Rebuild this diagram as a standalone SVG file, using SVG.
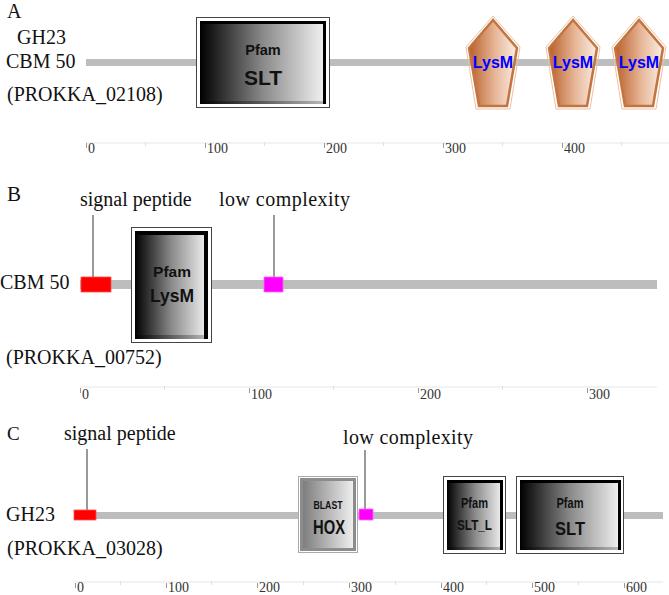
<svg xmlns="http://www.w3.org/2000/svg" width="669" height="595" viewBox="0 0 669 595">
<defs>
<linearGradient id="bw" x1="0" y1="0" x2="1" y2="0">
<stop offset="0" stop-color="#000"/>
<stop offset="0.5" stop-color="#8a8a8a"/>
<stop offset="1" stop-color="#f4f4f4"/>
</linearGradient>
<linearGradient id="bwb" x1="0" y1="0" x2="1" y2="0">
<stop offset="0" stop-color="#000"/>
<stop offset="1" stop-color="#bbb"/>
</linearGradient>
<linearGradient id="gray" x1="0" y1="0" x2="1" y2="0">
<stop offset="0" stop-color="#7a7a7a"/>
<stop offset="1" stop-color="#f2f2f2"/>
</linearGradient>
<linearGradient id="cu" x1="0" y1="0" x2="1" y2="0">
<stop offset="0" stop-color="#b9602b"/>
<stop offset="0.55" stop-color="#e7b798"/>
<stop offset="1" stop-color="#fbeee6"/>
</linearGradient>
<g id="pent">
<polygon points="0,-1 -27,30 -17,92 17,92 27,30" fill="none" stroke="#eec0a2" stroke-width="1"/>
<polygon points="0,3 -24,31 -14,89 14,89 24,31" fill="url(#cu)" stroke="#c4743f" stroke-width="2.5"/>
</g>
</defs>
<style>
.serif{font-family:"Liberation Serif","Times New Roman",serif;fill:#111}
.lbl{font-size:20px}
.ax{font-size:14px;fill:#333}
.sans{font-family:"Liberation Sans",Arial,sans-serif;font-weight:bold;fill:#111;text-anchor:middle}
.lys{font-family:"Liberation Sans",Arial,sans-serif;font-weight:bold;font-size:16px;fill:#0000ff;text-anchor:middle}
.bb{fill:#bdbdbd}
.axl{stroke:#e6e6e6;stroke-width:1}
.tk{stroke:#9a9a9a;stroke-width:1}
.mt{stroke:#e0e0e0;stroke-width:1}
.outer{fill:#fff;stroke:#444;stroke-width:1}
.conn{stroke:#555;stroke-width:1.2;fill:none}
</style>
<rect width="669" height="595" fill="#fff"/>

<!-- Panel A -->
<g id="panelA-labels">
<text class="serif" x="7" y="18" font-size="20">A</text>
<text class="serif lbl" x="17" y="44">GH23</text>
<text class="serif lbl" x="6" y="68">CBM 50</text>
<text class="serif lbl" x="7" y="101">(PROKKA_02108)</text>
</g>
<g id="backboneA"><rect class="bb" x="86" y="59" width="583" height="7"/></g>
<g id="A-SLT">
<rect class="outer" x="196.5" y="17.5" width="133" height="90"/>
<rect x="200" y="21" width="126" height="83" fill="url(#bw)"/>
<rect x="200" y="101" width="126" height="3" fill="url(#bwb)"/>
<path d="M200,22.5 H324.5 V104" fill="none" stroke="#000" stroke-width="3"/>
<text class="sans" x="263" y="55" font-size="14.5">Pfam</text>
<text class="sans" x="263" y="85" font-size="21">SLT</text>
</g>
<g id="A-LysM1"><use href="#pent" transform="translate(493,17)"/><text class="lys" x="493" y="68">LysM</text></g>
<g id="A-LysM2"><use href="#pent" transform="translate(573,17)"/><text class="lys" x="573" y="68">LysM</text></g>
<g id="A-LysM3"><use href="#pent" transform="translate(639,17)"/><text class="lys" x="639" y="68">LysM</text></g>
<g id="axisA">
<line class="axl" x1="86" y1="143" x2="669" y2="143"/>
<g class="mt"><line x1="145.5" y1="142" x2="145.5" y2="146"/><line x1="264.5" y1="142" x2="264.5" y2="146"/><line x1="383.5" y1="142" x2="383.5" y2="146"/><line x1="502.5" y1="142" x2="502.5" y2="146"/><line x1="621.5" y1="142" x2="621.5" y2="146"/></g>
<g class="tk"><line x1="86.5" y1="143" x2="86.5" y2="148"/><line x1="205.5" y1="143" x2="205.5" y2="148"/><line x1="324.5" y1="143" x2="324.5" y2="148"/><line x1="443.5" y1="143" x2="443.5" y2="148"/><line x1="562.5" y1="143" x2="562.5" y2="148"/></g>
<text class="serif ax" x="88" y="153">0</text>
<text class="serif ax" x="207" y="153">100</text>
<text class="serif ax" x="326" y="153">200</text>
<text class="serif ax" x="445" y="153">300</text>
<text class="serif ax" x="564" y="153">400</text>
</g>

<!-- Panel B -->
<g id="panelB-labels">
<text class="serif" x="7" y="201" font-size="21">B</text>
<text class="serif lbl" x="0" y="289">CBM 50</text>
<text class="serif lbl" x="6" y="364">(PROKKA_00752)</text>
<text class="serif lbl" x="80" y="206">signal peptide</text>
<text class="serif lbl" x="219" y="206" textLength="131">low complexity</text>
</g>
<g id="backboneB"><rect class="bb" x="80" y="280" width="577" height="9"/></g>
<g id="connectors">
<line class="conn" x1="93" y1="215" x2="93" y2="277"/>
<line class="conn" x1="274" y1="215" x2="274" y2="277"/>
<line class="conn" x1="87" y1="449" x2="87" y2="510"/>
<line class="conn" x1="365" y1="450" x2="365" y2="509"/>
</g>
<g id="B-signal"><rect x="81" y="277" width="30" height="15" fill="#ff0000" stroke="#ff5050" stroke-width="0.8"/></g>
<g id="B-lowcomplexity"><rect x="264" y="277" width="19" height="15" fill="#ff00ff" stroke="#ff66ff" stroke-width="0.8"/></g>
<g id="B-LysM">
<rect class="outer" x="131.5" y="227.5" width="80" height="115"/>
<rect x="135" y="231" width="73" height="108" fill="url(#bw)"/>
<rect x="135" y="335" width="73" height="4" fill="url(#bwb)"/>
<path d="M135,233 H206 V339" fill="none" stroke="#000" stroke-width="4"/>
<text class="sans" x="172" y="277" font-size="15.5">Pfam</text>
<text class="sans" x="172" y="302" font-size="17.5">LysM</text>
</g>
<g id="axisB">
<line class="axl" x1="80" y1="387" x2="657" y2="387"/>
<g class="mt"><line x1="164.5" y1="386" x2="164.5" y2="390"/><line x1="333.5" y1="386" x2="333.5" y2="390"/><line x1="502.5" y1="386" x2="502.5" y2="390"/></g>
<g class="tk"><line x1="80.5" y1="388" x2="80.5" y2="393"/><line x1="249.5" y1="388" x2="249.5" y2="393"/><line x1="418.5" y1="388" x2="418.5" y2="393"/><line x1="587.5" y1="388" x2="587.5" y2="393"/></g>
<text class="serif ax" x="82" y="399" font-size="15">0</text>
<text class="serif ax" x="251" y="399" font-size="15">100</text>
<text class="serif ax" x="420" y="399" font-size="15">200</text>
<text class="serif ax" x="589" y="399" font-size="15">300</text>
</g>

<!-- Panel C -->
<g id="panelC-labels">
<text class="serif" x="7" y="440" font-size="19">C</text>
<text class="serif lbl" x="64" y="440">signal peptide</text>
<text class="serif lbl" x="343" y="444" textLength="130">low complexity</text>
<text class="serif lbl" x="6" y="521">GH23</text>
<text class="serif lbl" x="7" y="555">(PROKKA_03028)</text>
</g>
<g id="backboneC"><rect class="bb" x="74" y="512" width="589" height="7"/></g>
<g id="C-signal"><rect x="74" y="510" width="22" height="10" fill="#ff0000" stroke="#ff5050" stroke-width="0.8"/></g>
<g id="C-HOX">
<rect x="298.5" y="476.5" width="59" height="76" fill="#fff" stroke="#aaa" stroke-width="1"/>
<rect x="301.5" y="479.5" width="53" height="70" fill="url(#gray)" stroke="#8c8c8c" stroke-width="3"/>
<text class="sans" x="328" y="509" font-size="11" textLength="29" lengthAdjust="spacingAndGlyphs">BLAST</text>
<text class="sans" x="329" y="534" font-size="20" textLength="32" lengthAdjust="spacingAndGlyphs">HOX</text>
</g>
<g id="C-lowcomplexity"><rect x="359" y="509" width="14" height="11" fill="#ff00ff" stroke="#ff66ff" stroke-width="0.8"/></g>
<g id="C-SLT_L">
<rect class="outer" x="443.5" y="476.5" width="62" height="77"/>
<rect x="447" y="480" width="56" height="70" fill="url(#bw)"/>
<rect x="447" y="547" width="56" height="3" fill="url(#bwb)"/>
<path d="M447,481.5 H501.5 V550" fill="none" stroke="#000" stroke-width="3"/>
<text class="sans" x="474.5" y="508" font-size="14" textLength="27" lengthAdjust="spacingAndGlyphs">Pfam</text>
<text class="sans" x="474.5" y="530" font-size="14" textLength="35" lengthAdjust="spacingAndGlyphs">SLT_L</text>
</g>
<g id="C-SLT">
<rect class="outer" x="516.5" y="476.5" width="107" height="77"/>
<rect x="520" y="480" width="101" height="70" fill="url(#bw)"/>
<rect x="520" y="547" width="101" height="3" fill="url(#bwb)"/>
<path d="M520,481.5 H619.5 V550" fill="none" stroke="#000" stroke-width="3"/>
<text class="sans" x="570" y="508" font-size="14" textLength="27" lengthAdjust="spacingAndGlyphs">Pfam</text>
<text class="sans" x="570" y="535" font-size="19" textLength="30" lengthAdjust="spacingAndGlyphs">SLT</text>
</g>
<g id="axisC">
<line class="axl" x1="75" y1="582" x2="663" y2="582"/>
<g class="mt"><line x1="120.5" y1="581" x2="120.5" y2="585"/><line x1="211.5" y1="581" x2="211.5" y2="585"/><line x1="303.5" y1="581" x2="303.5" y2="585"/><line x1="395.5" y1="581" x2="395.5" y2="585"/><line x1="486.5" y1="581" x2="486.5" y2="585"/><line x1="578.5" y1="581" x2="578.5" y2="585"/></g>
<g class="tk"><line x1="75.5" y1="583" x2="75.5" y2="588"/><line x1="166.5" y1="583" x2="166.5" y2="588"/><line x1="257.5" y1="583" x2="257.5" y2="588"/><line x1="349.5" y1="583" x2="349.5" y2="588"/><line x1="441.5" y1="583" x2="441.5" y2="588"/><line x1="532.5" y1="583" x2="532.5" y2="588"/><line x1="624.5" y1="583" x2="624.5" y2="588"/></g>
<text class="serif ax" x="77" y="592">0</text>
<text class="serif ax" x="168" y="592">100</text>
<text class="serif ax" x="259" y="592">200</text>
<text class="serif ax" x="351" y="592">300</text>
<text class="serif ax" x="443" y="592">400</text>
<text class="serif ax" x="534" y="592">500</text>
<text class="serif ax" x="626" y="592">600</text>
</g>
</svg>
